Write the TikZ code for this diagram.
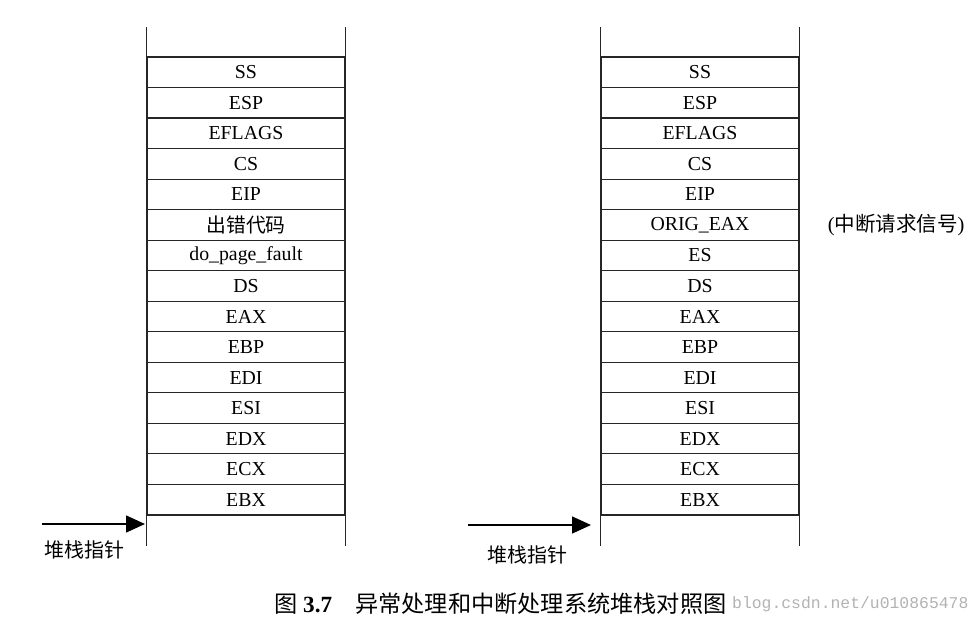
\documentclass[tikz,border=0pt]{standalone}
\usepackage{fontspec}
\setmainfont{Liberation Serif}
\newfontfamily\cjk{Noto Sans CJK SC}
\newfontfamily\wmfont{Liberation Mono}
\usetikzlibrary{arrows.meta}
\begin{document}
\begin{tikzpicture}[x=1pt,y=-1pt,
  cell/.style={draw=black!85,line width=1.2pt,minimum width=198pt,minimum height=30.53pt,
    inner sep=0pt,font=\fontsize{19.8pt}{22pt}\selectfont},
  rail/.style={draw=black!85,line width=1.5pt},
  ptr/.style={line width=1.5pt,-{Triangle[length=19pt,width=17pt]}},
  lab/.style={font=\fontsize{20pt}{24pt}\selectfont\cjk,inner sep=0pt}]
\path[use as bounding box] (0,0) rectangle (980,624);
% left stack
\foreach \t [count=\i] in {SS,ESP,EFLAGS,CS,EIP,{\cjk 出错代码},do\_page\_fault,DS,EAX,EBP,EDI,ESI,EDX,ECX,EBX}
  \node[cell] (L\i) at (246,{57+30.53*(\i-0.5)}) {\t};
\draw[rail] (L1.north west) -- ++(0,-29);
\draw[rail] (L1.north east) -- ++(0,-29);
\draw[rail] (L15.south west) -- ++(0,30);
\draw[rail] (L15.south east) -- ++(0,30);
% right stack
\foreach \t [count=\i] in {SS,ESP,EFLAGS,CS,EIP,ORIG\_EAX,ES,DS,EAX,EBP,EDI,ESI,EDX,ECX,EBX}
  \node[cell] (R\i) at (700,{57+30.53*(\i-0.5)}) {\t};
\draw[rail] (R1.north west) -- ++(0,-29);
\draw[rail] (R1.north east) -- ++(0,-29);
\draw[rail] (R15.south west) -- ++(0,30);
\draw[rail] (R15.south east) -- ++(0,30);
% note
\node[anchor=west,inner sep=0pt,font=\fontsize{20.5pt}{24pt}\selectfont] (note) at ([xshift=28pt]R6.east) {({\cjk 中断请求信号})};
% pointers
\coordinate (tailL) at (42,524);
\coordinate (tipL) at (145,524);
\draw[ptr] (tailL) -- (tipL);
\node[lab] (pl) at (84,550) {堆栈指针};
\coordinate (tailR) at (468,525);
\coordinate (tipR) at (591,525);
\draw[ptr] (tailR) -- (tipR);
\node[lab] (pr) at (527,555) {堆栈指针};
% caption
\node[anchor=west,inner sep=0pt,font=\fontsize{23.2pt}{26pt}\selectfont] (cap) at (274,604)
  {{\cjk 图} \textbf{3.7}\hspace{23pt}{\cjk 异常处理和中断处理系统堆栈对照图}};
\node[anchor=west,inner sep=0pt,text=black!30,font=\fontsize{16.4pt}{20pt}\selectfont\wmfont] (wm) at (732,604) {blog.csdn.net/u010865478};
\end{tikzpicture}
\end{document}
